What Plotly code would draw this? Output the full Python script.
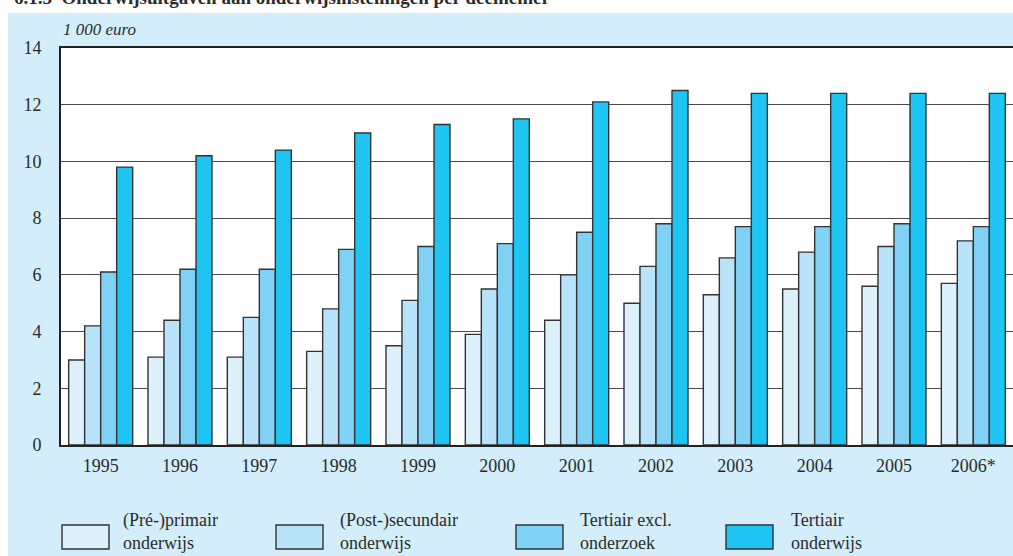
import plotly.graph_objects as go

# Uitgaven per deelnemer (x 1 000 euro)
years = ["1995", "1996", "1997", "1998", "1999", "2000",
         "2001", "2002", "2003", "2004", "2005", "2006*"]
primair = [3.0, 3.1, 3.1, 3.3, 3.5, 3.9, 4.4, 5.0, 5.3, 5.5, 5.6, 5.7]
secundair = [4.2, 4.4, 4.5, 4.8, 5.1, 5.5, 6.0, 6.3, 6.6, 6.8, 7.0, 7.2]
tertiair_excl = [6.1, 6.2, 6.2, 6.9, 7.0, 7.1, 7.5, 7.8, 7.7, 7.7, 7.8, 7.7]
tertiair = [9.8, 10.2, 10.4, 11.0, 11.3, 11.5, 12.1, 12.5, 12.4, 12.4, 12.4, 12.4]

series_names = ["(Pré-)primair<br>onderwijs", "(Post-)secundair<br>onderwijs",
                "Tertiair excl.<br>onderzoek", "Tertiair<br>onderwijs"]
series_values = [primair, secundair, tertiair_excl, tertiair]
colors = ["#dcf0fb", "#b8e3f8", "#7fd2f5", "#1fc5f2"]
y_ticks = [0, 2, 4, 6, 8, 10, 12, 14]

FONT = "Liberation Serif"
TEXT = "#2b2b2b"
PANEL = "#d3eefa"
EDGE = "#333333"

W, H = 1013, 556
L, R, T, B = 61, 0, 48, 111
PW, PH = W - L - R, H - T - B


def px_x(x):
    return (x - L) / PW


def px_y(y):
    return (H - B - y) / PH


fig = go.Figure()
for name, vals, col in zip(series_names, series_values, colors):
    fig.add_trace(go.Bar(
        x=years, y=vals, name=name, showlegend=False,
        marker=dict(color=col, line=dict(color=EDGE, width=1.4)),
    ))

shapes = [
    # white strips outside the coloured panel
    dict(type="rect", xref="paper", yref="paper",
         x0=px_x(0), x1=px_x(W), y0=px_y(13), y1=px_y(-5),
         fillcolor="white", line=dict(width=0), layer="below"),
    dict(type="rect", xref="paper", yref="paper",
         x0=px_x(-5), x1=px_x(8), y0=px_y(H + 5), y1=px_y(-5),
         fillcolor="white", line=dict(width=0), layer="below"),
]
annotations = [
    dict(text="6.1.3  Onderwijsuitgaven aan onderwijsinstellingen per deelnemer",
         xref="paper", yref="paper", x=px_x(12), y=px_y(10),
         xanchor="left", yanchor="bottom", showarrow=False,
         font=dict(family=FONT, size=19, color=TEXT, weight="bold")),
    dict(text="<i>1 000 euro</i>", xref="paper", yref="paper",
         x=px_x(61), y=px_y(30), xanchor="left", yanchor="middle",
         showarrow=False, font=dict(family=FONT, size=17, color=TEXT)),
]

# legend: swatch boxes with two-line labels
box_x = [62, 276, 516, 726]
text_x = [121, 338, 578, 789]
for bx, tx, name, col in zip(box_x, text_x, series_names, colors):
    shapes.append(dict(type="rect", xref="paper", yref="paper",
                       x0=px_x(bx), x1=px_x(bx + 47),
                       y0=px_y(549), y1=px_y(525),
                       fillcolor=col, line=dict(color=EDGE, width=1.4)))
    annotations.append(dict(text=name, xref="paper", yref="paper",
                            x=px_x(tx), y=px_y(531), xanchor="left",
                            yanchor="middle", align="left", showarrow=False,
                            font=dict(family=FONT, size=18, color=TEXT)))

fig.update_layout(
    width=W, height=H,
    margin=dict(l=L, r=R, t=T, b=B, pad=0),
    paper_bgcolor=PANEL, plot_bgcolor="white",
    barmode="group", bargap=0.193, bargroupgap=0,
    font=dict(family=FONT, size=18, color=TEXT),
    shapes=shapes, annotations=annotations,
    xaxis=dict(type="category", range=[-0.5, 11.5], showgrid=False,
               showline=True, linecolor="#222222", linewidth=1.6, mirror=True,
               ticks="", tickfont=dict(size=18, color=TEXT),
               ticklabelstandoff=4, zeroline=False),
    yaxis=dict(range=[0, 14], tickvals=y_ticks, showgrid=True,
               gridcolor="#4a4a4a", gridwidth=1.3,
               showline=True, linecolor="#222222", linewidth=1.6,
               ticks="", tickfont=dict(size=18, color=TEXT),
               ticklabelstandoff=14, zeroline=False),
)

fig.write_html("out.html")
